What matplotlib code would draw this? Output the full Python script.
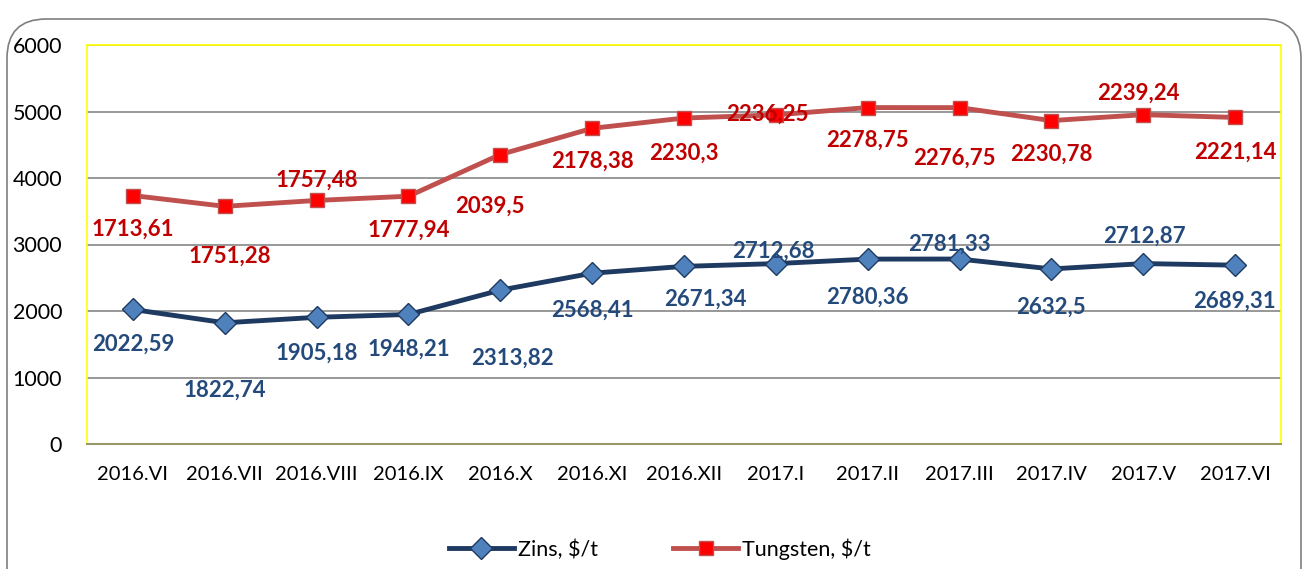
import matplotlib.pyplot as plt
from matplotlib.patches import FancyBboxPatch
import numpy as np

plt.rcParams['font.family'] = ['Lato', 'DejaVu Sans']

months = ['2016.VI', '2016.VII', '2016.VIII', '2016.IX', '2016.X', '2016.XI',
          '2016.XII', '2017.I', '2017.II', '2017.III', '2017.IV', '2017.V', '2017.VI']
zins = [2022.59, 1822.74, 1905.18, 1948.21, 2313.82, 2568.41, 2671.34,
        2712.68, 2780.36, 2781.33, 2632.5, 2712.87, 2689.31]
tungsten = [1713.61, 1751.28, 1757.48, 1777.94, 2039.5, 2178.38, 2230.3,
            2236.25, 2278.75, 2276.75, 2230.78, 2239.24, 2221.14]

# label offsets in pixels (dx, dy) relative to each point
zins_off = [(0, -35), (0, -67), (0, -36), (0, -35), (12, -68), (0, -37), (21, -33),
            (-2, 12), (0, -38), (-10, 15), (0, -38), (1, 27), (-1, -36)]
tung_off = [(0, -34), (5, -50), (0, 20), (0, -34), (-10, -52), (0, -33), (0, -35),
            (-8, 1), (0, -33), (-5, -51), (0, -34), (-5, 21), (0, -35)]

x = np.arange(len(months))
stacked = np.array(zins) + np.array(tungsten)

fig = plt.figure(figsize=(13.08, 5.69), dpi=100)
ax = fig.add_axes([87/1308, 1-444/569, (1281-87)/1308, (444-45)/569])

# outer rounded frame (bottom runs off the image)
frame = FancyBboxPatch((7/1308, -0.1), 1294/1308, 1.1 - 19/569,
                       boxstyle='round,pad=0,rounding_size=0.03',
                       transform=fig.transFigure, facecolor='none',
                       edgecolor='#7f7f7f', linewidth=1.2, zorder=0,
                       mutation_aspect=1308/569)
fig.patches.append(frame)

ax.plot(x, zins, color='#1F3A60', linewidth=3.5, marker='D', markersize=11,
        markerfacecolor='#4F81BD', markeredgecolor='#1F3A60', markeredgewidth=1,
        label='Zins, $/t', zorder=3)
ax.plot(x, stacked, color='#C0504D', linewidth=3.5, marker='s', markersize=10,
        markerfacecolor='#FF0000', markeredgecolor='#C0504D', markeredgewidth=1,
        label='Tungsten, $/t', zorder=3)

def fmt(v):
    return ('%g' % v).replace('.', ',')

for i in x:
    ax.annotate(fmt(zins[i]), (i, zins[i]), xytext=zins_off[i], textcoords='offset pixels',
                ha='center', va='center', fontsize=16, fontweight='bold',
                color='#244A7C', zorder=4)
    ax.annotate(fmt(tungsten[i]), (i, stacked[i]), xytext=tung_off[i], textcoords='offset pixels',
                ha='center', va='center', fontsize=16, fontweight='bold',
                color='#C00000', zorder=4)

ax.set_xlim(-0.5, len(months) - 0.5)
ax.set_ylim(0, 6000)
ax.set_yticks(range(0, 6001, 1000))
ax.set_xticks(x)
ax.set_xticklabels(months)
ax.tick_params(axis='y', length=0, pad=18, labelsize=15.5)
ax.tick_params(axis='x', length=0, pad=16, labelsize=14.5)
ax.yaxis.grid(True, color='#868686', linewidth=1.2)
ax.set_axisbelow(True)
for s in ['left', 'top', 'right']:
    ax.spines[s].set_color('#FFFF00')
    ax.spines[s].set_linewidth(1.2)
ax.spines['bottom'].set_color('#9A9A66')
ax.spines['bottom'].set_linewidth(1.5)

fig.legend(loc='center', bbox_to_anchor=(660/1308, 1-549/569), ncol=2, frameon=False,
           fontsize=15.5, handlelength=3.0, columnspacing=3.5, handletextpad=0.2)

fig.savefig('out.png', dpi=100)
